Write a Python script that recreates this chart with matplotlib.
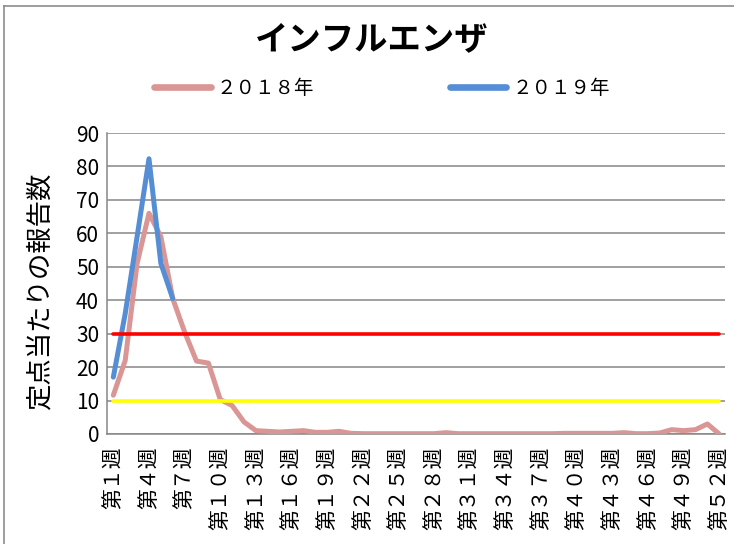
import matplotlib
matplotlib.use('Agg')
import matplotlib.pyplot as plt
from matplotlib.lines import Line2D

plt.rcParams['font.family'] = ['Noto Sans CJK JP', 'DejaVu Sans']

# ---- data ----
weeks = list(range(1, 53))
y2018 = [11.6, 22.0, 51.0, 66.0, 59.0, 40.5, 30.5, 21.8, 21.2, 10.3, 8.5, 3.6,
         1.0, 0.8, 0.6, 0.8, 1.0, 0.5, 0.5, 0.8, 0.2,
         0.1, 0.1, 0.1, 0.1, 0.1, 0.1, 0.1,
         0.4,
         0.1, 0.1, 0.1, 0.1, 0.1, 0.1, 0.1, 0.1, 0.1,
         0.2, 0.2, 0.2, 0.2, 0.2,
         0.4, 0.1, 0.1, 0.3, 1.3, 1.0, 1.3, 3.0, 0.0]
weeks2019 = [1, 2, 3, 4, 5, 6]
y2019 = [17.0, 36.0, 59.0, 82.3, 51.0, 40.5]
warning_level = 30   # red line
advisory_level = 10  # yellow line
label2018 = '２０１８年'
label2019 = '２０１９年'
title = 'インフルエンザ'
ylabel = '定点当たりの報告数'
tick_weeks = weeks[::3]
fw = str.maketrans('0123456789', '０１２３４５６７８９')
tick_labels = ['第' + str(w).translate(fw) + '週' for w in tick_weeks]
yticks = list(range(0, 91, 10))

# ---- figure ----
W, H = 734, 544
fig = plt.figure(figsize=(W / 100, H / 100), dpi=100)
left, right, top, bottom = 107.4, 725.2, 133, 434
ax = fig.add_axes([left / W, 1 - bottom / H, (right - left) / W, (bottom - top) / H])

grid_c = '#868686'
ax.set_xlim(0.5, 52.5)
ax.set_ylim(0, 90)
ax.set_yticks(yticks)
ax.yaxis.grid(True, color=grid_c, lw=1.1)
ax.set_axisbelow(True)
for s in ['top', 'right']:
    ax.spines[s].set_visible(False)
for s in ['left', 'bottom']:
    ax.spines[s].set_color(grid_c)
    ax.spines[s].set_linewidth(1.1)

ax.plot(weeks, y2018, color='#D99694', lw=3.6, solid_capstyle='round',
        solid_joinstyle='round', label=label2018, zorder=3)
ax.plot(weeks2019, y2019, color='#558ED5', lw=3.6, solid_capstyle='round',
        solid_joinstyle='round', label=label2019, zorder=4)
ax.plot(weeks, [warning_level] * len(weeks), color='#FF0000', lw=2.6,
        solid_capstyle='round', zorder=5)
ax.plot(weeks, [advisory_level] * len(weeks), color='#FFFF00', lw=2.6,
        solid_capstyle='round', zorder=5)

ax.set_xticks(tick_weeks)
ax.set_xticklabels(tick_labels, rotation=90, fontsize=15)
ax.tick_params(axis='x', length=0, pad=9)
ax.tick_params(axis='y', length=0, pad=6, labelsize=15)

ax.set_ylabel(ylabel, fontsize=19)
ax.yaxis.set_label_coords((54 - left) / (right - left), (bottom - 291.5) / (bottom - top))

fig.text(372 / W, 1 - 40 / H, title, fontsize=24, fontweight='bold',
         ha='center', va='center')

handles = [Line2D([], [], color='#D99694', lw=4.8, solid_capstyle='round'),
           Line2D([], [], color='#558ED5', lw=4.8, solid_capstyle='round')]
fig.legend(handles, [label2018, label2019], loc='center',
           bbox_to_anchor=(382 / W, 1 - 88 / H), ncol=2, frameon=False,
           fontsize=14, handlelength=2.9, handletextpad=0.3, columnspacing=7)

# chart-area border (partially visible)
fig.add_artist(Line2D([4 / W, 1], [1 - 6 / H, 1 - 6 / H], color='#8c8c8c', lw=1.2))
fig.add_artist(Line2D([4 / W, 4 / W], [0, 1 - 6 / H], color='#8c8c8c', lw=1.2))

fig.savefig('out.png', dpi=100)
